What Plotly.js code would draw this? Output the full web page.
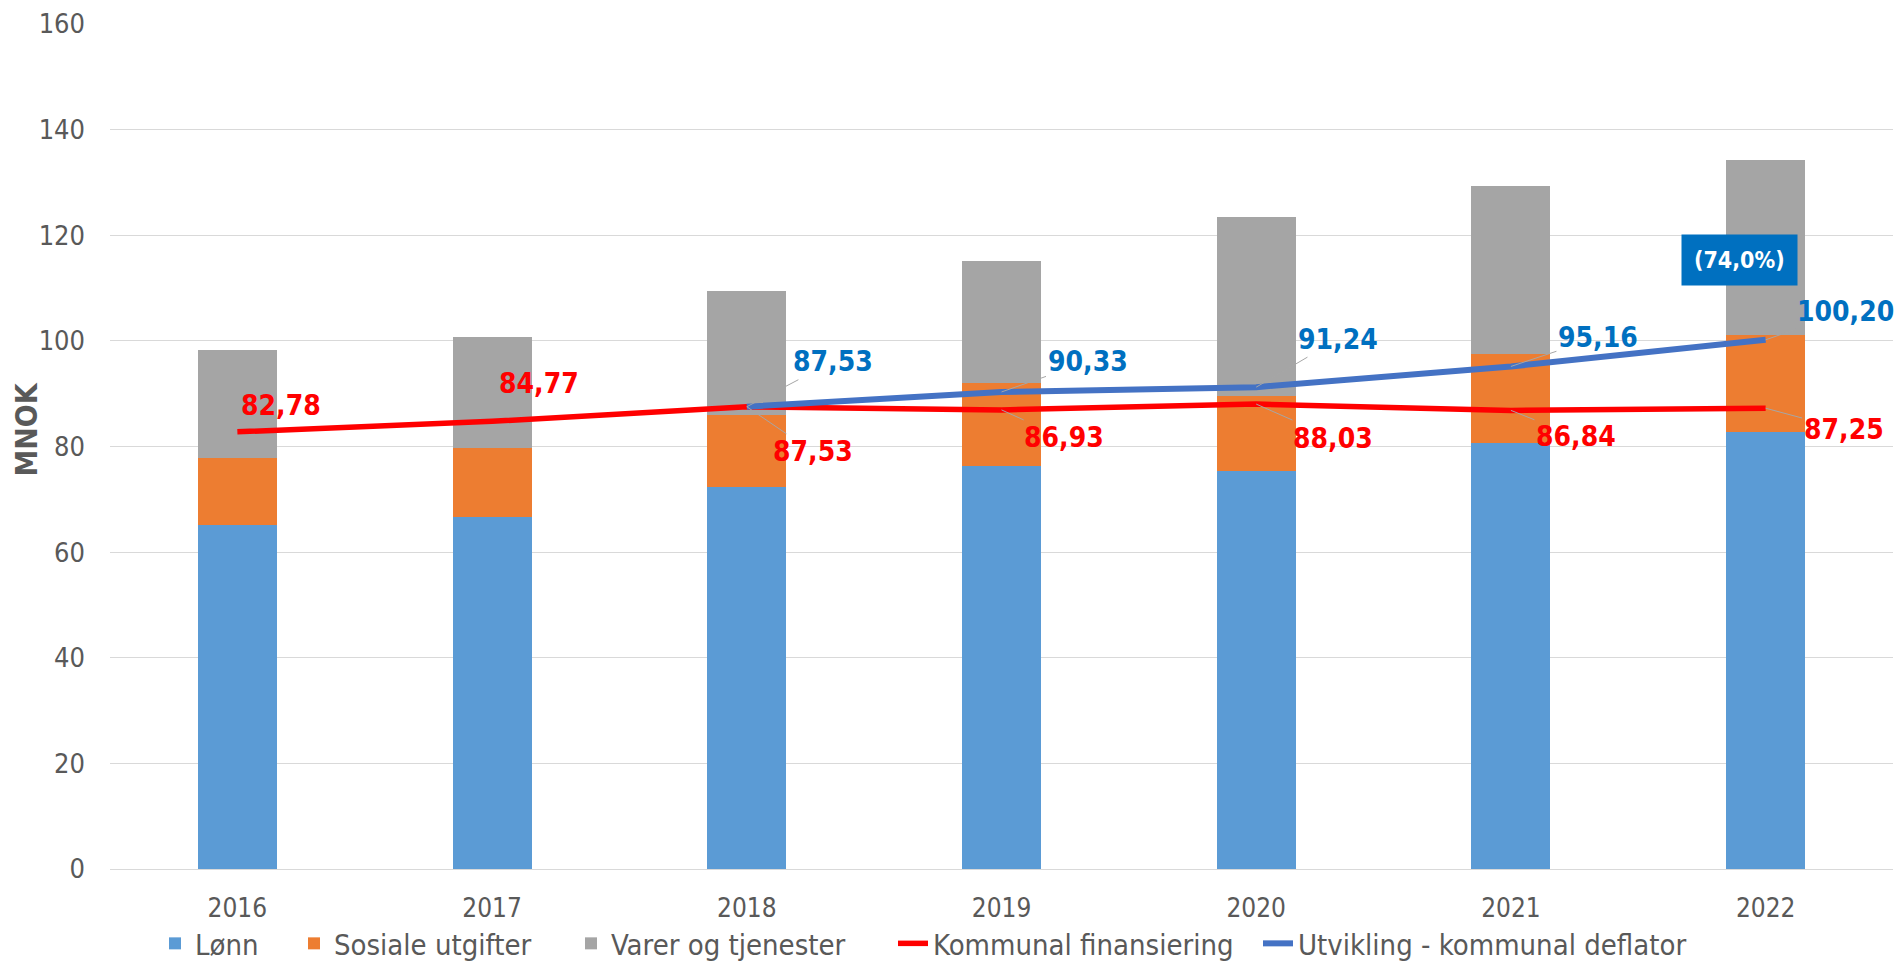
<!DOCTYPE html>
<html>
<head>
<meta charset="utf-8">
<script src="https://cdn.plot.ly/plotly-3.0.1.min.js"></script>
<style>html,body{margin:0;padding:0;background:#fff;}#chart{width:1897px;height:969px;}</style>
</head>
<body>
<div id="chart"></div>
<script>
var years = ['2016','2017','2018','2019','2020','2021','2022'];
var lonn = [65.1, 66.6, 72.3, 76.4, 75.3, 80.7, 82.7];
var sosiale = [12.8, 13.2, 13.6, 15.6, 14.2, 16.9, 18.5];
var varer = [20.4, 21.0, 23.6, 23.2, 33.9, 31.7, 33.0];
var kommunal = [82.78, 84.77, 87.53, 86.93, 88.03, 86.84, 87.25];
var deflator = [null, null, 87.53, 90.33, 91.24, 95.16, 100.20];
var kommunalLabels = ['82,78','84,77','87,53','86,93','88,03','86,84','87,25'];
var deflatorLabels = ['','','87,53','90,33','91,24','95,16','100,20'];
var shareLabel = '(74,0%)';
var shareValue = 115.4;
var yTitle = 'MNOK';
var seriesNames = ['Lønn','Sosiale utgifter','Varer og tjenester','Kommunal finansiering','Utvikling - kommunal deflator'];

var FONT = "'Liberation Sans Narrow', 'DejaVu Sans Condensed', 'Roboto Condensed', Carlito, Roboto, sans-serif";

var traces = [
  {type:'bar', name:seriesNames[0], x:years, y:lonn, marker:{color:'#5B9BD5'}, legend:'legend'},
  {type:'bar', name:seriesNames[1], x:years, y:sosiale, marker:{color:'#ED7D31'}, legend:'legend2'},
  {type:'bar', name:seriesNames[2], x:years, y:varer, marker:{color:'#A5A5A5'}, legend:'legend3'},
  {type:'scatter', mode:'lines', name:seriesNames[3], x:years, y:kommunal, line:{color:'#FF0000', width:5.5}, legend:'legend4'},
  {type:'scatter', mode:'lines', name:seriesNames[4], x:years, y:deflator, line:{color:'#4472C4', width:6}, legend:'legend5'}
];

// label offsets (pixels) for each data label
var redOff = [[44,-26,false],[47,-38,false],[66,45,true],[62,28,true],[77,34,true],[65,26,true],[78,21,true]];
var blueOff = [null,null,[86,-45,true],[86,-30,true],[82,-48,true],[87,-29,true],[80,-28,true]];

var annotations = [];
for (var i=0;i<years.length;i++){
  var o = redOff[i];
  var a = {xref:'x', yref:'y', x:i, y:kommunal[i], text:kommunalLabels[i], font:{family:FONT, size:28, color:'#FF0000', weight:'bold'},
           showarrow:o[2], arrowhead:0, arrowwidth:1, arrowcolor:'#A6A6A6'};
  if (o[2]) { a.ax=o[0]; a.ay=o[1]; } else { a.xshift=o[0]; a.yshift=-o[1]; }
  annotations.push(a);
  var b = blueOff[i];
  if (b && deflator[i] !== null){
    annotations.push({xref:'x', yref:'y', x:i, y:deflator[i], text:deflatorLabels[i], font:{family:FONT, size:28, color:'#0070C0', weight:'bold'},
      showarrow:true, ax:b[0], ay:b[1], arrowhead:0, arrowwidth:1, arrowcolor:'#A6A6A6'});
  }
}
annotations.push({xref:'x', yref:'y', x:years.length-1, y:shareValue, text:'<b>'+shareLabel+'</b>', showarrow:false, xshift:-26,
  font:{family:FONT, size:23, color:'#FFFFFF'}, bgcolor:'#0070C0', borderpad:12});
// y-axis title
annotations.push({xref:'paper', yref:'paper', x:0, y:0.52, xshift:-83, xanchor:'center', yanchor:'middle', showarrow:false,
  textangle:-90, text:'<b>'+yTitle+'</b>', font:{family:FONT, size:30, color:'#595959'}});

function leg(textStartPx){
  return {orientation:'h', xref:'container', yref:'container', x:(textStartPx-40)/1897, xanchor:'left', y:0, yanchor:'bottom',
          font:{family:FONT, size:29, color:'#595959'}, itemwidth:30, bgcolor:'rgba(0,0,0,0)'};
}

var layout = {
  width:1897, height:969,
  barmode:'stack', bargap:0.69,
  margin:{l:110, r:4, t:24, b:100},
  paper_bgcolor:'#FFFFFF', plot_bgcolor:'#FFFFFF',
  font:{family:FONT, size:28, color:'#595959'},
  xaxis:{type:'category', range:[-0.5, 6.5], showgrid:false, showline:true, linecolor:'#D9D9D9', ticks:'', ticklabelstandoff:16,
         tickfont:{family:FONT, size:26, color:'#595959'}},
  yaxis:{range:[0,160], dtick:20, showgrid:true, gridcolor:'#D9D9D9', gridwidth:1, zeroline:true, zerolinecolor:'#D9D9D9',
         ticks:'', ticklabelstandoff:24, tickfont:{family:FONT, size:27, color:'#595959'}},
  legend:leg(195), legend2:leg(334), legend3:leg(611), legend4:leg(933), legend5:leg(1298),
  showlegend:true,
  annotations:annotations
};

Plotly.newPlot('chart', traces, layout, {displayModeBar:false, staticPlot:true});
</script>
</body>
</html>
